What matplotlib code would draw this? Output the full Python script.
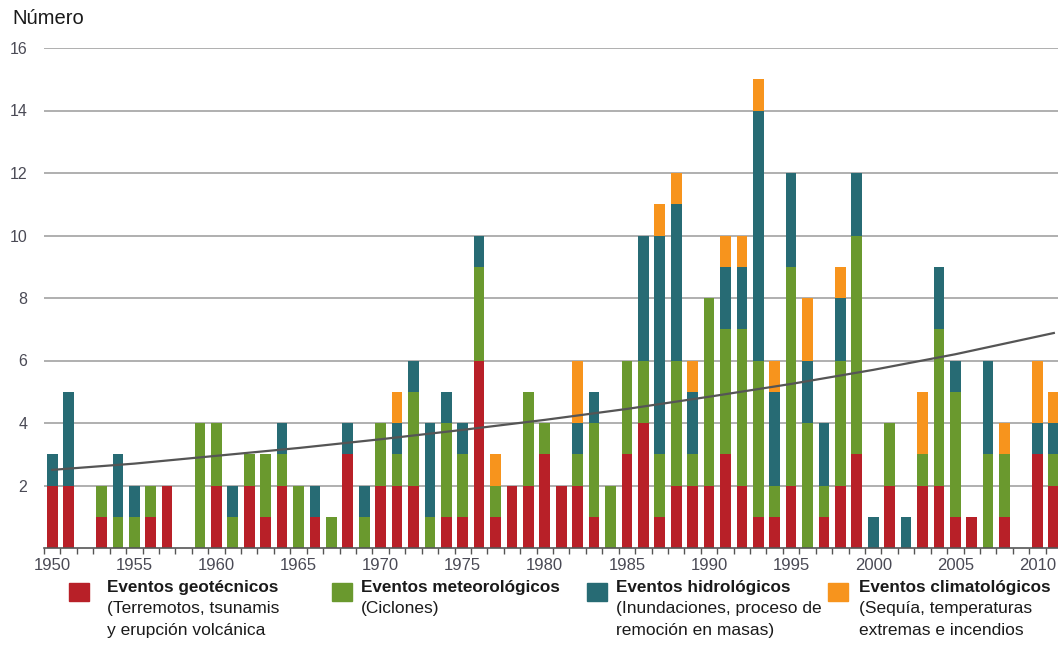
import matplotlib
matplotlib.use("Agg")
import matplotlib.pyplot as plt
import numpy as np

years = list(range(1950, 2012))
# stacked values per year: geotechnical, meteorological, hydrological, climatological
geo = [2, 2, 0, 1, 0, 0, 1, 2, 0, 0,
       2, 0, 2, 1, 2, 0, 1, 0, 3, 0,
       2, 2, 2, 0, 1, 1, 6, 1, 2, 2,
       3, 2, 2, 1, 0, 3, 4, 1, 2, 2,
       2, 3, 2, 1, 1, 2, 0, 1, 2, 3,
       0, 2, 0, 2, 2, 1, 1, 0, 1, 0,
       3, 2]
met = [0, 0, 0, 1, 1, 1, 1, 0, 0, 4,
       2, 1, 1, 2, 1, 2, 0, 1, 0, 1,
       2, 1, 3, 1, 3, 2, 3, 1, 0, 3,
       1, 0, 1, 3, 2, 3, 2, 2, 4, 1,
       6, 4, 5, 5, 1, 7, 4, 1, 4, 7,
       0, 2, 0, 1, 5, 4, 0, 3, 2, 0,
       0, 1]
hyd = [1, 3, 0, 0, 2, 1, 0, 0, 0, 0,
       0, 1, 0, 0, 1, 0, 1, 0, 1, 1,
       0, 1, 1, 3, 1, 1, 1, 0, 0, 0,
       0, 0, 1, 1, 0, 0, 4, 7, 5, 2,
       0, 2, 2, 8, 3, 3, 2, 2, 2, 2,
       1, 0, 1, 0, 2, 1, 0, 3, 0, 0,
       1, 1]
cli = [0, 0, 0, 0, 0, 0, 0, 0, 0, 0,
       0, 0, 0, 0, 0, 0, 0, 0, 0, 0,
       0, 1, 0, 0, 0, 0, 0, 1, 0, 0,
       0, 0, 2, 0, 0, 0, 0, 1, 1, 1,
       0, 1, 1, 1, 1, 0, 2, 0, 1, 0,
       0, 0, 0, 2, 0, 0, 0, 0, 1, 0,
       2, 1]

trend_years = [1950, 1955, 1960, 1965, 1970, 1975, 1980, 1985, 1990, 1995, 2000, 2005, 2011]
trend_vals = [2.5, 2.7, 2.95, 3.2, 3.48, 3.78, 4.1, 4.45, 4.84, 5.25, 5.7, 6.2, 6.88]

series_names = ["Eventos geotécnicos", "Eventos meteorológicos",
                "Eventos hidrológicos", "Eventos climatológicos"]
series_sub = ["(Terremotos, tsunamis\ny erupción volcánica",
              "(Ciclones)",
              "(Inundaciones, proceso de\nremoción en masas)",
              "(Sequía, temperaturas\nextremas e incendios"]
colors = ["#B82028", "#6A992E", "#276B74", "#F7941D"]

yticks = [2, 4, 6, 8, 10, 12, 14, 16]
xlabel_years = list(range(1950, 2011, 5))

plt.rcParams['font.family'] = ['Liberation Sans', 'DejaVu Sans']

W, H = 1058, 645
fig = plt.figure(figsize=(W / 100, H / 100), dpi=100)
ax_left, ax_bottom_px, ax_top_px = 44, 548, 48
px_per_year = 16.42
ax_w = 62 * px_per_year
ax = fig.add_axes([ax_left / W, 1 - ax_bottom_px / H, ax_w / W, (ax_bottom_px - ax_top_px) / H])
ax.set_xlim(1949.5, 2011.5)
ax.set_ylim(0, 16)

bottom = np.zeros(len(years))
for vals, c in zip([geo, met, hyd, cli], colors):
    v = np.array(vals, dtype=float)
    ax.bar(years, v, bottom=bottom, width=0.65, color=c, zorder=3, linewidth=0)
    bottom += v

ax.plot(trend_years, trend_vals, color="#555555", lw=1.6, zorder=4)

for y in yticks:
    ax.axhline(y, color="#9a9a9a", lw=1.1, zorder=1)

for s in ["top", "right", "left"]:
    ax.spines[s].set_visible(False)
ax.spines["bottom"].set_color("#555555")
ax.spines["bottom"].set_linewidth(1.2)
ax.spines["bottom"].set_zorder(5)

ax.set_yticks(yticks)
ax.set_yticklabels([str(v) for v in yticks])
ax.tick_params(axis="y", length=0, pad=12, labelsize=11.5, labelcolor="#4a4a55")

ax.set_xticks([y - 0.5 for y in years] + [2011.5])
ax.set_xticklabels([])
ax.tick_params(axis="x", which="major", length=4, width=1, color="#555555", direction="out")
ax.set_xticks(xlabel_years, minor=True)
ax.set_xticklabels([str(y) for y in xlabel_years], minor=True)
ax.tick_params(axis="x", which="minor", length=0, pad=7, labelsize=12, labelcolor="#4a4a55")

fig.text(12 / W, 1 - 18 / H, "Número", fontsize=14.5, color="#1a1a1a", va="center", ha="left")

sq_x = [69, 332, 587, 828]
txt_x = [107, 361, 616, 859]
for sx, tx, name, sub, c in zip(sq_x, txt_x, series_names, series_sub, colors):
    fig.patches.append(plt.Rectangle((sx / W, 1 - 601 / H), 20 / W, 18 / H,
                                     transform=fig.transFigure, color=c, figure=fig))
    fig.text(tx / W, 1 - 592 / H, name, fontsize=12.3, fontweight="bold",
             color="#1a1a1a", va="baseline", ha="left")
    for i, line in enumerate(sub.split("\n")):
        fig.text(tx / W, 1 - (613.5 + 21.5 * i) / H, line, fontsize=12.5,
                 color="#1a1a1a", va="baseline", ha="left")

fig.savefig("out.png", dpi=100, facecolor="white")
